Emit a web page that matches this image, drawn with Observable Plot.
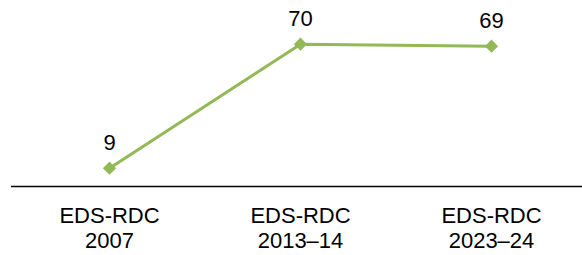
<!DOCTYPE html>
<html>
<head>
<meta charset="utf-8">
<script src="https://cdn.jsdelivr.net/npm/d3@7"></script>
<script src="https://cdn.jsdelivr.net/npm/@observablehq/plot@0.6"></script>
<style>
  html, body { margin: 0; padding: 0; background: #fff; }
  #chart svg { display: block; }
</style>
</head>
<body>
<div id="chart"></div>
<script>
const surveys = ["EDS-RDC\n2007", "EDS-RDC\n2013–14", "EDS-RDC\n2023–24"];
const values = [9, 70, 69];
const labels = ["9", "70", "69"];

const data = surveys.map((s, i) => ({survey: s, value: values[i], label: labels[i]}));
const green = "#92b955";

const chart = Plot.plot({
  width: 582,
  height: 255,
  marginLeft: 11,
  marginRight: 0,
  marginTop: 3,
  marginBottom: 69,
  style: {fontFamily: "Liberation Sans, Arial, sans-serif", background: "#fff"},
  x: {type: "point", domain: surveys, range: [108, 491], padding: 0, label: null},
  y: {domain: [0, 90], axis: null},
  marks: [
    Plot.ruleY([0], {stroke: "#000", strokeWidth: 1.3}),
    Plot.axisX({tickSize: 0, tickPadding: 19, fontSize: 22, lineHeight: 1.13, label: null, fill: "#000", textAnchor: "middle"}),
    Plot.line(data, {x: "survey", y: "value", stroke: green, strokeWidth: 3}),
    Plot.dot(data, {x: "survey", y: "value", symbol: "diamond2", r: 5, fill: green, stroke: green}),
    Plot.text(data, {x: "survey", y: "value", text: "label", dy: -25, fontSize: 22, fill: "#000"})
  ]
});
document.getElementById("chart").appendChild(chart);
</script>
</body>
</html>
